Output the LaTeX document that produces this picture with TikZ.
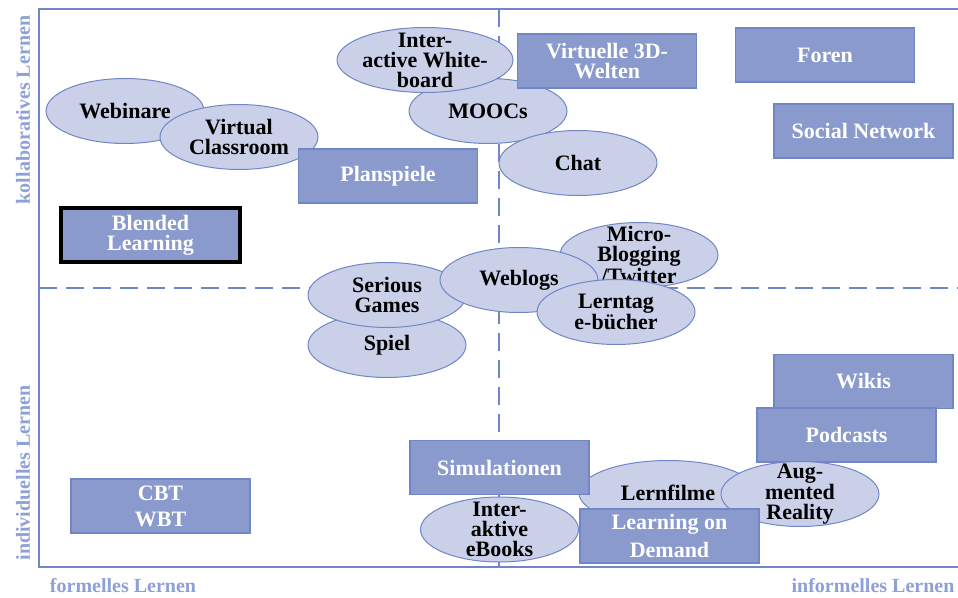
\documentclass[tikz,border=0pt]{standalone}
\usepackage{fontspec}
\setmainfont{Liberation Serif}
\usetikzlibrary{shapes.geometric}
\definecolor{axisblue}{HTML}{7086C6}
\definecolor{labelblue}{HTML}{8DA0D8}
\definecolor{boxblue}{HTML}{8A9ACD}
\definecolor{bubbleblue}{HTML}{C9D0E8}

\begin{document}
\begin{tikzpicture}[x=1pt, y=-1pt,
    tool/.style={rectangle, draw=axisblue, line width=1.2pt, fill=boxblue, text=white,
      minimum width=179pt, minimum height=54pt, inner sep=0pt, align=center,
      font=\bfseries\fontsize{22}{20}\selectfont},
    bubble/.style={ellipse, draw=axisblue, line width=1pt, fill=bubbleblue,
      minimum width=158pt, minimum height=65pt, inner sep=0pt, align=center,
      font=\bfseries\fontsize{22}{20}\selectfont},
    btext/.style={align=center, inner sep=0pt, font=\bfseries\fontsize{22}{20}\selectfont},
    axislabel/.style={text=labelblue, font=\bfseries\fontsize{20}{20}\selectfont},
    divider/.style={axisblue, line width=2pt, dash pattern=on 18pt off 9pt}]

    \useasboundingbox (0,0) rectangle (958,597);

    % Quadrant dividers
    \draw[divider] (39,288) -- (958,288);
    \draw[divider] (499,9) -- (499,567);

    % Frame (left, top, bottom)
    \draw[axisblue, line width=2pt] (958,9) -- (39,9) -- (39,567) -- (958,567);

    % Axis labels
    \node[axislabel, rotate=90] (collab) at (23,110) {kollaboratives Lernen};
    \node[axislabel, rotate=90] (indiv) at (23,473) {individuelles Lernen};
    \node[axislabel, anchor=base] (formal) at (123,592) {formelles Lernen};
    \node[axislabel, anchor=base] (informal) at (873,592) {informelles Lernen};

    % Upper left
    \node[bubble] (webinare) at (125,111) {Webinare};
    \node[bubble] (vclass) at (239,137) {Virtual\\Classroom};
    \node[tool] (planspiele) at (388,176) {Planspiele};
    \node[tool, draw=black, line width=3.5pt] (blended) at (150.5,235) {Blended\\Learning};

    % Upper middle
    \node[bubble] (moocs) at (488,111) {MOOCs};
    \node[bubble] (chat) at (578,163) {Chat};
    \node[bubble, minimum width=176pt, label={[btext]center:{Inter-\\active White-\\board}}] (whiteboard) at (425,60) {};
    \node[tool] (welten) at (607,61) {Virtuelle 3D-\\Welten};

    % Upper right
    \node[tool] (foren) at (825,55) {Foren};
    \node[tool] (social) at (863.5,131) {Social Network};

    % Middle band
    \node[bubble, label={[btext]center:{Micro-\\Blogging\\/Twitter}}] (micro) at (639,255) {};
    \node[bubble] (spiel) at (387,345) {Spiel};
    \node[bubble] (serious) at (387,295) {Serious\\Games};
    \node[bubble] (weblogs) at (519,280) {Weblogs};
    \node[bubble] (lerntag) at (616,312) {Lerntag\\e-bücher};

    % Lower half
    \node[tool] (cbt) at (160.5,506) {CBT\\[6pt]WBT};
    \node[bubble, label={[btext]center:{Inter-\\aktive\\eBooks}}] (ebooks) at (499.5,529.5) {};
    \node[bubble, minimum width=178pt] (lernfilme) at (668,493) {Lernfilme};
    \node[tool] (simulation) at (499.5,467.5) {Simulationen};
    \node[tool] (wikis) at (863.5,381.5) {Wikis};
    \node[tool] (podcasts) at (846.5,435) {Podcasts};
    \node[bubble, label={[btext]center:{Aug-\\mented\\Reality}}] (augmented) at (800,494) {};
    \node[tool] (demand) at (669.5,536) {Learning on\\[6pt]Demand};
\end{tikzpicture}
\end{document}
